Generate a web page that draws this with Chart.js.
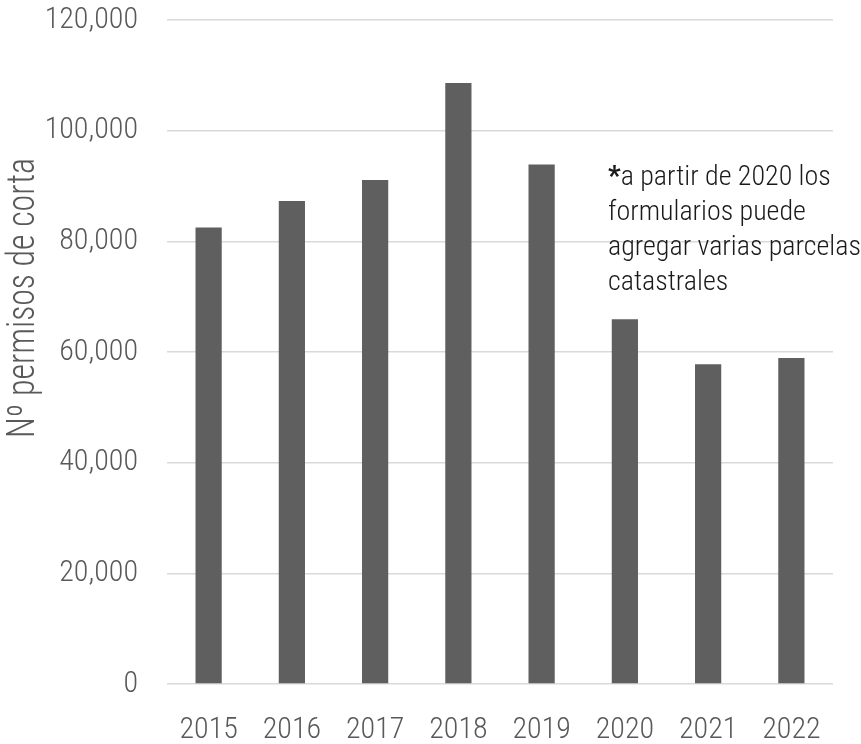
<!DOCTYPE html>
<html>
<head>
<meta charset="utf-8">
<script src="https://cdn.jsdelivr.net/npm/chart.js@4"></script>
<style>
  html, body { margin: 0; padding: 0; background: #fff; }
  #wrap { width: 861px; height: 744px; position: relative; }
</style>
</head>
<body>
<div id="wrap"><canvas id="permisos-chart"></canvas></div>
<script>
const years = ['2015', '2016', '2017', '2018', '2019', '2020', '2021', '2022'];
const permisos = [82500, 87300, 91100, 108600, 93900, 65900, 57800, 58900];
const yTicks = [0, 20000, 40000, 60000, 80000, 100000, 120000];
const yTitle = 'Nº permisos de corta';
const noteLines = ['a partir de 2020 los', 'formularios puede', 'agregar varias parcelas', 'catastrales'];

const FONT = "'Roboto Condensed', 'Liberation Sans Narrow', Roboto, sans-serif";

// axis title and note, drawn by hand so they sit where the original has them
const textPlugin = {
    id: 'texts',
    afterDraw(chart) {
        const ctx = chart.ctx;
        const area = chart.chartArea;

        // y title, squeezed to the condensed width of the original
        ctx.save();
        ctx.font = '300 38px ' + FONT;
        ctx.fillStyle = '#595959';
        ctx.textAlign = 'center';
        ctx.textBaseline = 'alphabetic';
        const w = ctx.measureText(yTitle).width;
        ctx.translate(34, 298);
        ctx.rotate(-Math.PI / 2);
        ctx.scale(280 / w, 1);
        ctx.fillText(yTitle, 0, 0);
        ctx.restore();

        // note
        const x = area.left + 441;
        let y = area.top + 165;
        ctx.save();
        ctx.fillStyle = '#1a1a1a';
        ctx.textBaseline = 'alphabetic';
        noteLines.forEach((line, i) => {
            let lx = x;
            if (i === 0) {
                ctx.font = '700 28px ' + FONT;
                ctx.fillText('*', lx, y);
                lx += ctx.measureText('*').width;
            }
            ctx.font = '300 28px ' + FONT;
            ctx.fillText(line, lx, y);
            y += 35;
        });
        ctx.restore();
    }
};

new Chart(document.getElementById('permisos-chart').getContext('2d'), {
    type: 'bar',
    data: {
        labels: years,
        datasets: [{
            label: yTitle,
            data: permisos,
            backgroundColor: '#5f5f5f',
            borderWidth: 0,
            barPercentage: 0.315,
            categoryPercentage: 1
        }]
    },
    options: {
        responsive: true,
        maintainAspectRatio: false,
        animation: false,
        layout: { padding: { left: 0, right: 28, top: 20, bottom: 0 } },
        plugins: {
            legend: { display: false },
            tooltip: { enabled: false }
        },
        scales: {
            x: {
                grid: { display: false },
                border: { display: false },
                ticks: {
                    color: '#595959',
                    font: { family: FONT, size: 30, weight: '300' },
                    padding: 20,
                    maxRotation: 0
                },
                afterFit: s => { s.height = 60; s.paddingLeft = 0; s.paddingRight = 0; }
            },
            y: {
                min: 0,
                max: 120000,
                afterBuildTicks: s => { s.ticks = yTicks.map(v => ({ value: v })); },
                grid: { color: '#d9d9d9', lineWidth: 1.5, drawTicks: false },
                border: { display: false },
                ticks: {
                    color: '#595959',
                    font: { family: FONT, size: 30, weight: '300' },
                    padding: 29,
                    callback: v => v.toLocaleString('en-US')
                },
                afterFit: s => { s.width = 167; s.paddingTop = 0; s.paddingBottom = 0; }
            }
        }
    },
    plugins: [textPlugin]
});
</script>
</body>
</html>
